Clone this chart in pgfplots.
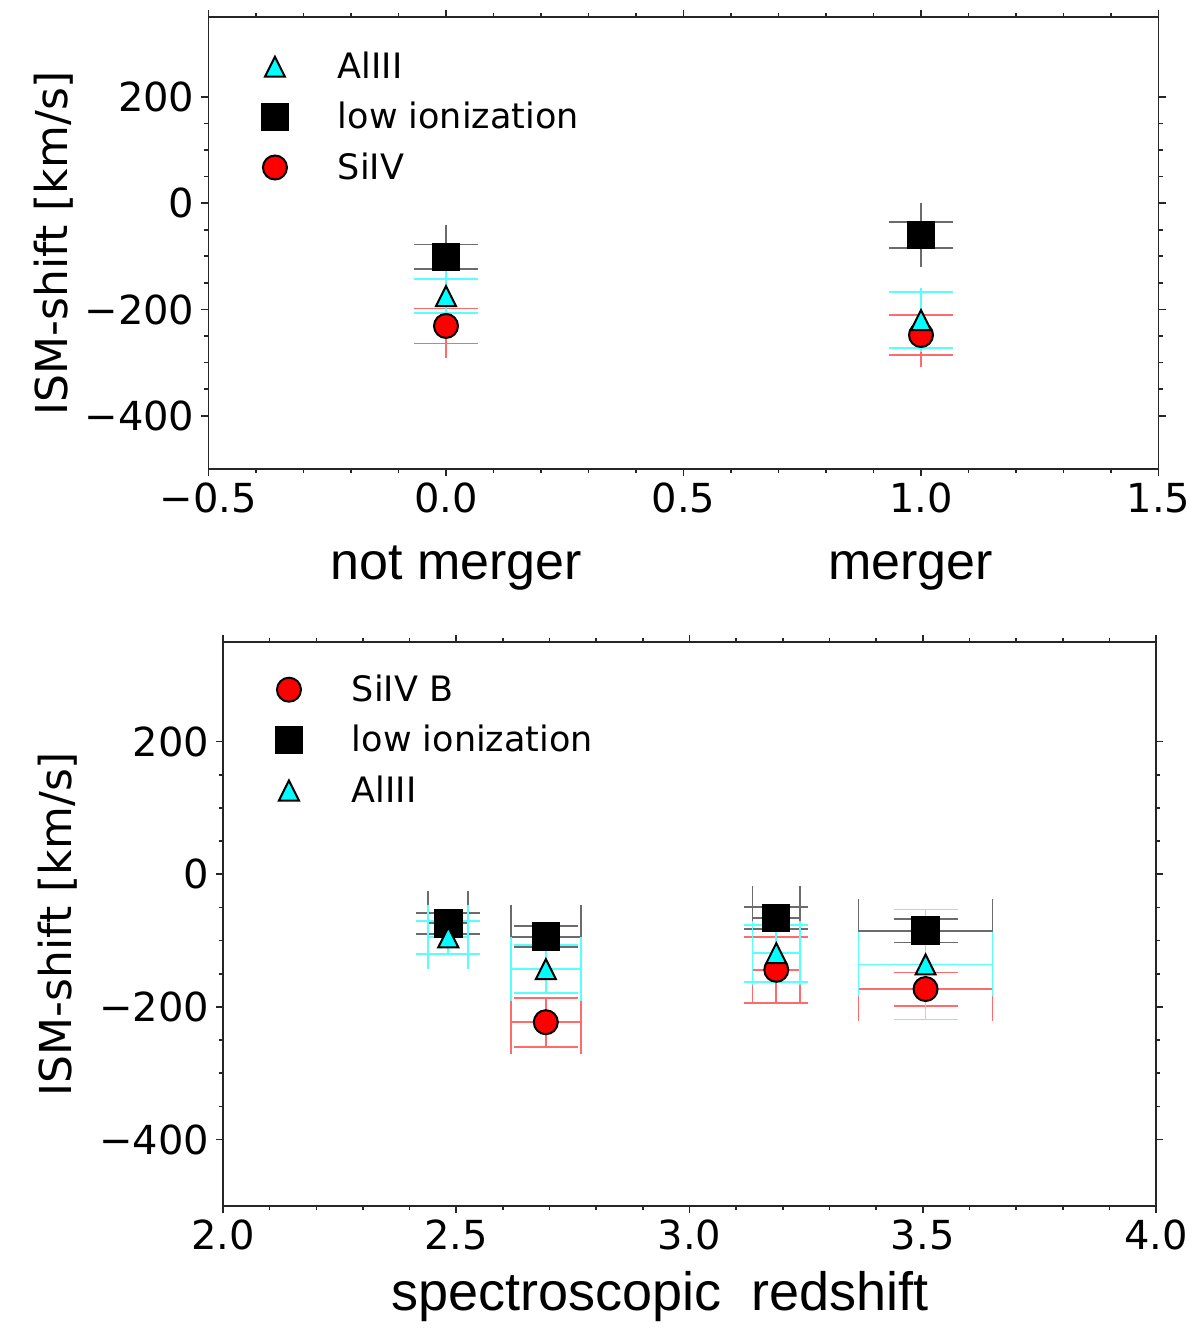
\documentclass[border=0pt]{standalone}
\usepackage{fontspec}
\setmainfont{DejaVu Sans}
\newfontfamily\arialfont{Liberation Sans}
\usepackage{pgfplots}
\pgfplotsset{compat=1.18}

\pgfdeclareplotmark{mtri}{%
  \pgfpathmoveto{\pgfqpoint{0pt}{\pgfplotmarksize}}%
  \pgfpathlineto{\pgfqpoint{-\pgfplotmarksize}{-\pgfplotmarksize}}%
  \pgfpathlineto{\pgfqpoint{\pgfplotmarksize}{-\pgfplotmarksize}}%
  \pgfpathclose
  \pgfusepathqfillstroke}

\definecolor{mcyan}{rgb}{0,1,1}
\definecolor{mred}{rgb}{1,0,0}
\definecolor{ebk}{rgb}{0.42,0.42,0.42}
\definecolor{ered}{rgb}{1,0.42,0.42}
\definecolor{ecy}{rgb}{0.35,1,1}

\pgfplotsset{
  msq/.style={mark=square*, mark size=6.6pt, mark options={fill=black, draw=black, line width=1pt}},
  mcirc/.style={mark=*, mark size=6pt, mark options={fill=mred, draw=black, line width=1pt}},
  mtr/.style={mark=mtri, mark size=5pt, mark options={fill=mcyan, draw=black, line width=1pt}},
  eb/.style={/pgfplots/error bars/x dir=both, /pgfplots/error bars/x explicit,
     /pgfplots/error bars/y dir=both, /pgfplots/error bars/y explicit,
     /pgfplots/error bars/error bar style={line width=0.9pt, #1},
     /pgfplots/error bars/error mark options={rotate=90, mark size=16pt, line width=0.9pt, #1}},
  common/.style={scale only axis, clip=false,
     axis line style={line width=0.8pt, black!85},
     tick align=outside, major tick length=3.5pt, minor tick length=2pt,
     every tick/.style={line width=0.8pt, black!85},
     ticklabel style={font=\fontsize{20}{24}\selectfont},
     ymin=-500, ymax=350,
     ytick={-400,-200,0,200}, yticklabels={−400,−200,0,200},
     minor y tick num=3, minor x tick num=4,
     legend cell align=left,
     legend image code/.code={\path[draw=none,fill=none] (-12pt,-12.6pt) rectangle (31.5pt,12.6pt); \draw[##1] plot coordinates {(0pt,0pt)};},
  },
}

\pgfplotstableread{
x y ex ey
0 -101 0.0005 23
1 -60 0.0005 24
}\topblack
\pgfplotstableread{
x y ex ey
0 -175 0.0005 32
1 -220 0.0005 53
}\topcyan
\pgfplotstableread{
x y ex ey
0 -231 0.0005 33
1 -248 0.0005 37
}\topred

\pgfplotstableread{
x y ex ey
2.483 -74 0.043 15.6
2.692 -94 0.075 15.4
3.186 -66 0.051 17
3.506 -85 0.1436 18
}\botblack
\pgfplotstableread{
x y ex ey
2.483 -95 0.043 25
2.692 -143 0.075 36
3.186 -119 0.051 43
3.506 -136 0.1436 83
}\botcyan
\pgfplotstableread{
x y ex ey
2.692 -223 0.075 37
3.186 -144 0.051 50
3.506 -173 0.1436 25
}\botred

\begin{document}
\begin{tikzpicture}[x=1pt,y=1pt]
\useasboundingbox (0,0) rectangle (600,671.5);

\begin{axis}[common, at={(104.25pt,437pt)}, anchor=south west,
  width=475pt, height=226pt,
  xmin=-0.5, xmax=1.5,
  xtick={-0.5,0,0.5,1,1.5}, xticklabels={−0.5,0.0,0.5,1.0,1.5},
  legend style={draw=none, fill=none, inner sep=0pt, outer sep=0pt, row sep=0pt,
    font=\fontsize{17.5}{20}\selectfont, nodes={inner sep=0pt, draw=none, fill=none},
    at={(0.0447,0.9458)}, anchor=north west},
]
\addlegendimage{mtr}\addlegendentry{AlIII}
\addlegendimage{msq}\addlegendentry{low ionization}
\addlegendimage{mcirc}\addlegendentry{SiIV}
\addplot[forget plot, only marks, mcirc, eb=ered] table[x=x,y=y,x error=ex,y error=ey] {\topred};
\addplot[forget plot, only marks, msq, eb=ebk] table[x=x,y=y,x error=ex,y error=ey] {\topblack};
\addplot[forget plot, only marks, mtr, eb=ecy] table[x=x,y=y,x error=ex,y error=ey] {\topcyan};
\node[anchor=base, yshift=-55.5pt, font=\arialfont\fontsize{26}{30}\selectfont] at (axis cs:0.022,-500) {not merger};
\node[anchor=base, yshift=-55.5pt, font=\arialfont\fontsize{26}{30}\selectfont] at (axis cs:0.978,-500) {merger};
\node[xshift=-70.25pt, rotate=90, anchor=base, font=\fontsize{22}{26}\selectfont] at (axis description cs:0,0.5) {ISM-shift [km/s]};
\end{axis}

\begin{axis}[common, at={(111.5pt,68.5pt)}, anchor=south west,
  width=466.5pt, height=282pt,
  xmin=2, xmax=4,
  xtick={2,2.5,3,3.5,4}, xticklabels={2.0,2.5,3.0,3.5,4.0},
  legend style={draw=none, fill=none, inner sep=0pt, outer sep=0pt, row sep=0pt,
    font=\fontsize{17.5}{20}\selectfont, nodes={inner sep=0pt, draw=none, fill=none},
    at={(0.045,0.9601)}, anchor=north west},
]
\addlegendimage{mcirc}\addlegendentry{SiIV B}
\addlegendimage{msq}\addlegendentry{low ionization}
\addlegendimage{mtr}\addlegendentry{AlIII}
\addplot[forget plot, only marks, mcirc, eb=ered] table[x=x,y=y,x error=ex,y error=ey] {\botred};
\addplot[forget plot, only marks, msq, eb=ebk] table[x=x,y=y,x error=ex,y error=ey] {\botblack};
\addplot[forget plot, only marks, mtr, eb=ecy] table[x=x,y=y,x error=ex,y error=ey] {\botcyan};
\node[anchor=base, yshift=-52pt, font=\arialfont\fontsize{27}{31}\selectfont] at (axis cs:2.937,-500) {spectroscopic\ \ redshift};
\node[xshift=-75.5pt, rotate=90, anchor=base, font=\fontsize{22}{26}\selectfont] at (axis description cs:0,0.5) {ISM-shift [km/s]};
\end{axis}
\end{tikzpicture}
\end{document}
